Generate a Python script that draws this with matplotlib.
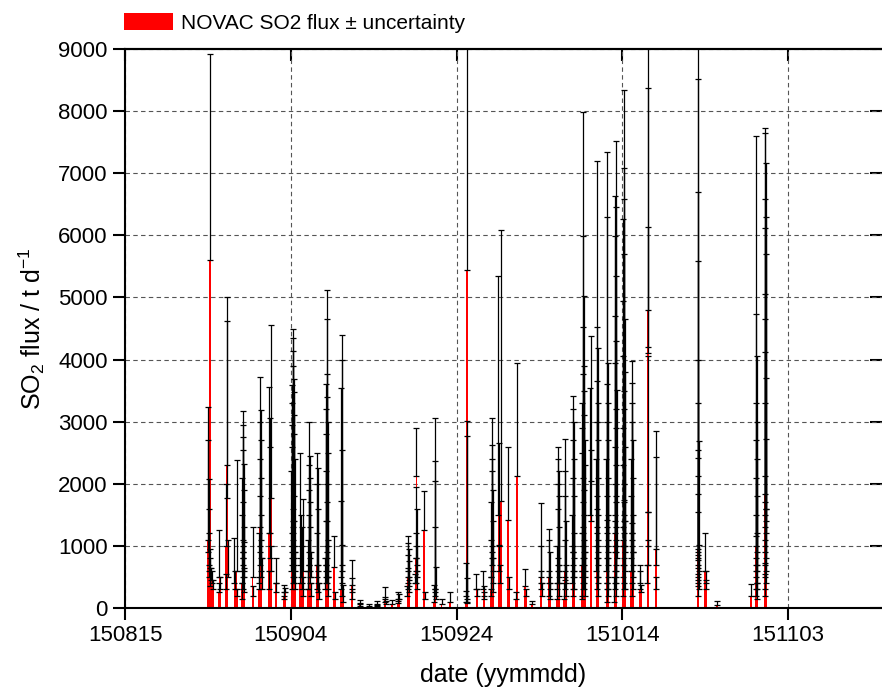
import datetime as dt
import matplotlib
matplotlib.use("Agg")
import matplotlib.pyplot as plt
import matplotlib.dates as mdates
import matplotlib.patches as patches
import numpy as np

plt.rcParams['font.family'] = ['Liberation Sans', 'DejaVu Sans']
plt.rcParams['mathtext.default'] = 'regular'

# axis ticks (yymmdd) and y ticks
tick_dates = ['150815', '150904', '150924', '151014', '151103']
y_ticks = [0, 1000, 2000, 3000, 4000, 5000, 6000, 7000, 8000, 9000]

# NOVAC scans: decimal day of year 2015, SO2 flux (t/d), uncertainty (t/d)
# one line per daily cluster, same order in all three lists
scan_doy = [
	237.22, 237.00, 237.05, 237.10, 237.15, 237.18, 237.26, 237.30, 237.34, 237.55, 237.60,
	238.40, 238.35, 238.50,
	239.32, 239.28, 239.22, 239.38, 239.18,
	240.46, 240.20, 240.30, 240.55,
	241.25, 241.22, 241.28, 241.19, 241.31, 241.16, 241.34, 241.24, 241.13, 241.37, 241.27, 241.20, 241.40, 241.10,
	242.40, 242.45,
	243.30, 243.36, 243.33, 243.39, 243.27, 243.42, 243.24, 243.45, 243.21, 243.48, 243.18,
	244.58, 244.40, 244.52, 244.46, 244.62, 244.34,
	245.20, 245.25,
	246.15, 246.22, 246.28,
	247.30, 247.27, 247.33, 247.24, 247.36, 247.21, 247.39, 247.18, 247.42, 247.15, 247.45, 247.12, 247.48, 247.09, 247.28, 247.35, 247.22, 247.41, 247.16, 247.50,
	248.17, 248.45, 248.22, 248.30, 248.38, 248.12, 248.50,
	249.25, 249.28, 249.22, 249.31, 249.19, 249.34, 249.16, 249.37, 249.13, 249.40, 249.10, 249.43,
	250.20, 250.24, 250.16, 250.28, 250.12, 250.32, 250.36,
	251.36, 251.33, 251.39, 251.30, 251.42, 251.27, 251.45, 251.24, 251.48, 251.21, 251.35, 251.38, 251.31, 251.44, 251.18, 251.51,
	252.25, 252.30,
	253.15, 253.18, 253.12, 253.21, 253.09, 253.24, 253.27,
	254.40, 254.35, 254.45,
	255.30, 255.35, 256.40, 257.40, 257.45, 258.40, 258.35, 258.45, 259.20, 260.00, 259.95, 260.05,
	261.20, 261.17, 261.23, 261.14, 261.26, 261.11, 261.29, 261.08,
	262.17, 262.13, 262.20, 262.10, 262.23, 262.07, 262.26, 262.04,
	263.10, 263.15,
	264.42, 264.38, 264.45, 264.35, 264.48, 264.32,
	265.20, 266.20,
	268.25, 268.22, 268.28, 268.19, 268.31, 268.16,
	269.40, 269.45, 270.25, 270.30, 270.35,
	271.30, 271.27, 271.33, 271.24, 271.36, 271.21, 271.39, 271.18, 271.42, 271.15,
	272.34, 272.06, 272.12, 272.18, 272.24,
	273.25, 273.30, 274.30, 274.20, 275.30, 275.35, 276.10,
	277.20, 277.17, 277.23, 277.26,
	278.20, 278.17, 278.23, 278.14, 278.26,
	279.30, 279.27, 279.33, 279.24, 279.36, 279.21, 279.39, 279.18, 279.42, 279.15,
	280.10, 280.13, 280.07, 280.16, 280.04, 280.19, 280.01,
	281.10, 281.07, 281.13, 281.04, 281.16, 281.01, 281.19, 280.98, 281.22, 281.11, 281.05,
	282.30, 282.27, 282.33, 282.24, 282.36, 282.21, 282.39, 282.18, 282.42, 282.15, 282.45, 282.12, 282.48, 282.29, 282.35, 282.23, 282.41, 282.17, 282.47, 282.11,
	283.22, 283.16, 283.28,
	284.00, 283.97, 284.03, 283.94, 284.06, 283.91, 284.09, 283.88, 284.12, 283.99, 284.05, 283.93, 284.10,
	285.20, 285.17, 285.23, 285.14, 285.26, 285.11, 285.29, 285.08, 285.32, 285.19, 285.25, 285.13, 285.30, 285.10,
	286.20, 286.17, 286.23, 286.14, 286.26, 286.11, 286.29, 286.08, 286.32, 286.19, 286.25, 286.13, 286.30, 286.10, 286.22, 286.16, 286.28, 286.05,
	287.20, 287.17, 287.23, 287.14, 287.26, 287.11, 287.29, 287.08, 287.32, 287.19, 287.25, 287.13, 287.30, 287.10, 287.22, 287.16, 287.28, 287.05,
	288.20, 288.17, 288.23, 288.14, 288.26, 288.11, 288.29, 288.08, 288.32, 288.19, 288.25, 288.13,
	289.20, 289.17, 289.24,
	290.12, 290.10, 290.14, 290.08, 290.05, 290.16, 290.03,
	291.06, 291.03, 291.10,
	296.16, 296.14, 296.18, 296.12, 296.20, 296.10, 296.22, 296.15, 296.17, 296.13, 296.19, 296.11, 296.21, 296.16,
	297.00, 297.05, 297.10, 298.40, 302.50,
	303.18, 303.15, 303.21, 303.12, 303.24, 303.09, 303.27, 303.16, 303.20, 303.13, 303.23, 303.10, 303.26,
	304.26, 304.23, 304.29, 304.20, 304.32, 304.17, 304.35, 304.25, 304.28, 304.22, 304.31, 304.19, 304.34, 304.24, 304.30, 304.21, 304.27,
]

so2_flux = [
	5600, 1100, 900, 700, 600, 500, 350, 650, 450, 400, 300,
	500, 250, 300,
	2300, 1775, 1000, 500, 300,
	600, 400, 300, 200,
	1000, 900, 800, 700, 1070, 600, 500, 800, 400, 600, 300, 500, 250, 150,
	500, 200,
	1300, 1100, 1000, 800, 900, 600, 700, 500, 400, 300, 300,
	1775, 1200, 1200, 800, 600, 300,
	400, 250,
	200, 150, 250,
	1400, 1300, 1200, 1100, 1000, 1000, 900, 900, 800, 800, 700, 700, 600, 600, 500, 500, 400, 400, 300, 300,
	700, 600, 500, 400, 300, 400, 200,
	900, 800, 700, 600, 700, 500, 600, 400, 300, 500, 300, 200,
	700, 600, 500, 400, 300, 250, 150,
	1000, 900, 800, 700, 1400, 600, 500, 700, 600, 500, 400, 500, 400, 300, 300, 200,
	660, 150,
	690, 600, 500, 400, 300, 200, 100,
	370, 250, 150,
	60, 40, 40, 50, 30, 150, 100, 60, 70, 120, 80, 150,
	600, 500, 450, 400, 350, 300, 250, 200,
	2127, 800, 700, 600, 500, 400, 300, 400,
	1250, 150,
	310, 300, 250, 200, 150, 100,
	60, 100,
	5440, 100, 80, 200, 150, 100,
	300, 200, 300, 200, 150,
	1000, 900, 800, 700, 600, 500, 400, 300, 250, 200,
	1717, 1500, 1000, 600, 400,
	1424, 300, 2127, 150, 350, 200, 60,
	500, 400, 300, 200,
	500, 400, 300, 200, 150,
	800, 700, 600, 600, 500, 400, 400, 300, 200, 150,
	600, 500, 450, 400, 300, 200, 150,
	1000, 900, 800, 700, 600, 500, 500, 400, 300, 300, 200,
	1300, 1200, 1100, 1000, 900, 800, 800, 700, 700, 600, 600, 500, 500, 400, 400, 300, 300, 200, 200, 150,
	2040, 1500, 1400,
	1600, 1300, 1100, 1000, 900, 800, 700, 600, 500, 500, 400, 300, 200,
	1424, 1300, 1100, 1000, 900, 800, 700, 600, 500, 400, 300, 300, 200, 100,
	1805, 1500, 1300, 1200, 1100, 1000, 900, 900, 800, 700, 600, 600, 500, 400, 400, 300, 200, 100,
	1746, 1500, 1400, 1300, 1200, 1100, 1000, 1000, 900, 800, 700, 700, 600, 500, 400, 300, 300, 200,
	1365, 1200, 1100, 1000, 900, 800, 700, 600, 500, 400, 300, 200,
	400, 300, 250,
	4793, 4200, 4100, 1541, 1000, 700, 400,
	955, 700, 300,
	955, 900, 850, 800, 700, 650, 600, 550, 500, 450, 400, 350, 300, 200,
	600, 400, 300, 50, 200,
	1160, 1000, 900, 800, 700, 600, 600, 500, 400, 300, 300, 200, 150,
	1834, 1700, 1600, 1500, 1400, 1300, 1200, 1100, 1000, 900, 800, 700, 600, 500, 400, 300, 200,
]

so2_err = [
	3320, 2140, 1810, 1370, 1000, 700, 450, 300, 200, 200, 150,
	750, 150, 200,
	2700, 2850, 1000, 600, 250,
	1790, 730, 300, 100,
	2170, 2050, 1950, 1850, 1250, 1500, 1400, 900, 1100, 700, 800, 400, 400, 250,
	800, 150,
	2420, 2080, 2000, 1900, 1500, 1500, 1100, 1000, 800, 500, 200,
	2785, 2360, 1865, 1800, 400, 300,
	410, 150,
	170, 100, 80,
	3090, 3050, 2930, 2800, 2680, 2590, 2575, 2400, 2300, 2150, 2100, 1900, 1800, 1600, 1500, 1300, 1200, 1000, 900, 600,
	1800, 1150, 1000, 900, 700, 400, 300,
	2100, 1650, 1600, 1500, 1200, 1200, 900, 900, 800, 400, 300, 200,
	1800, 1650, 1500, 1200, 900, 450, 250,
	4116, 3750, 2970, 2900, 2000, 2600, 2500, 2100, 1900, 1700, 1600, 1200, 1000, 800, 500, 300,
	500, 100,
	3710, 3400, 3034, 2137, 1417, 814, 270,
	410, 236, 150,
	75, 40, 30, 60, 30, 190, 80, 50, 60, 130, 60, 80,
	560, 550, 500, 450, 400, 350, 250, 150,
	763, 1150, 900, 600, 500, 400, 300, 150,
	640, 100,
	2755, 2060, 1790, 1107, 512, 270,
	80, 150,
	4300, 2906, 2690, 520, 336, 180,
	245, 100, 300, 150, 100,
	2065, 1725, 1600, 1500, 1300, 1200, 1000, 800, 550, 300,
	4366, 3850, 1654, 414, 300,
	1172, 200, 1817, 100, 283, 100, 60,
	1188, 600, 300, 200,
	777, 700, 600, 400, 250,
	1796, 1700, 1600, 1400, 1300, 1200, 900, 700, 500, 250,
	2113, 1700, 1350, 1000, 800, 500, 250,
	2416, 2300, 2200, 2000, 1800, 1600, 1300, 1100, 900, 600, 400,
	6687, 4795, 3928, 3530, 3000, 2968, 2700, 2600, 2400, 2300, 2100, 2000, 1800, 1700, 1500, 1400, 1200, 1000, 700, 450,
	2343, 2034, 1137,
	5596, 3230, 3078, 2650, 2400, 2200, 2000, 1800, 1600, 1300, 1100, 900, 600,
	5918, 4988, 2844, 2600, 2400, 2200, 2000, 1800, 1600, 1400, 1200, 900, 600, 300,
	5713, 5140, 5164, 4795, 4250, 3705, 3395, 3044, 2704, 2500, 2300, 2000, 1800, 1600, 1300, 1100, 800, 400,
	6594, 5579, 5180, 4960, 4500, 3840, 3650, 3061, 2900, 2700, 2500, 2200, 2000, 1800, 1600, 1400, 1100, 800,
	2608, 2421, 2200, 2000, 1800, 1600, 1400, 1200, 1000, 800, 600, 400,
	290, 300, 120,
	4600, 4168, 2041, 2520, 541, 400, 300,
	1887, 1732, 200,
	8600, 7615, 5850, 4785, 3300, 2650, 2084, 1987, 1920, 1677, 1434, 1191, 714, 580,
	607, 200, 150, 60, 187,
	6446, 3735, 3161, 2500, 2300, 2100, 1800, 1600, 1400, 1200, 900, 500, 250,
	5889, 5950, 5570, 5080, 4888, 4812, 4500, 3957, 3647, 3220, 2910, 2600, 2113, 1627, 1200, 420, 345,
]

assert len(scan_doy) == len(so2_flux) == len(so2_err), (len(scan_doy), len(so2_flux), len(so2_err))

red = '#ff0000'

# day of year -> matplotlib date number
year_start = mdates.date2num(dt.datetime(2015, 1, 1))
x = year_start + np.array(scan_doy) - 1.0
flux = np.array(so2_flux, dtype=float)
err = np.array(so2_err, dtype=float)

fig = plt.figure(figsize=(8.82, 6.92), dpi=100)
ax = fig.add_axes([125/882, 84/692, 757/882, 559/692])

ax.bar(x, flux, width=0.2, color=red, linewidth=0, zorder=2)
# plus-only error bars, cap on top
ax.errorbar(
	x, flux, yerr=[np.zeros_like(err), err],
	fmt='none', ecolor='black', elinewidth=0.9,
	capsize=2.5, capthick=0.9, zorder=3
)

tick_x = [mdates.date2num(dt.datetime.strptime(s, '%y%m%d')) for s in tick_dates]
px_per_day = 165.75/20.
ax.set_xlim(tick_x[0], tick_x[0] + 757/px_per_day)
ax.set_ylim(0, 9000)
ax.set_xticks(tick_x)
ax.set_xticklabels(tick_dates)
ax.set_yticks(y_ticks)

ax.grid(True, color='#555555', linestyle=(0, (4, 3)), linewidth=0.8, zorder=1)
ax.set_axisbelow(True)

for s in ['left', 'bottom', 'top']:
	ax.spines[s].set_linewidth(1.5)
ax.spines['right'].set_visible(False)

ax.tick_params(axis='both', which='major', direction='out', length=8.5, width=1.5, labelsize=16, pad=4)

# inward ticks on top and right, no labels
sec_x = ax.secondary_xaxis('top')
sec_x.set_xticks(tick_x)
sec_x.tick_params(direction='in', length=8.5, width=1.5, labeltop=False)
sec_x.spines['top'].set_linewidth(1.5)
sec_y = ax.secondary_yaxis('right')
sec_y.set_yticks(y_ticks)
sec_y.tick_params(direction='in', length=8.5, width=1.5, labelright=False)
sec_y.spines['right'].set_visible(False)

ax.set_xlabel('date (yymmdd)', fontsize=18, labelpad=12)
ax.set_ylabel('SO$_2$ flux / t d$^{-1}$', fontsize=18, labelpad=8)

handles = [patches.Patch(facecolor=red, label='NOVAC SO2 flux ± uncertainty')]
fig.legend(
	handles=handles, loc='upper left', bbox_to_anchor=(124/882, 1 - 13/692),
	frameon=False, fontsize=15, handlelength=2.35, handleheight=0.9,
	handletextpad=0.4, borderpad=0, borderaxespad=0
)

fig.savefig('out.png', dpi=100)
plt.close('all')
